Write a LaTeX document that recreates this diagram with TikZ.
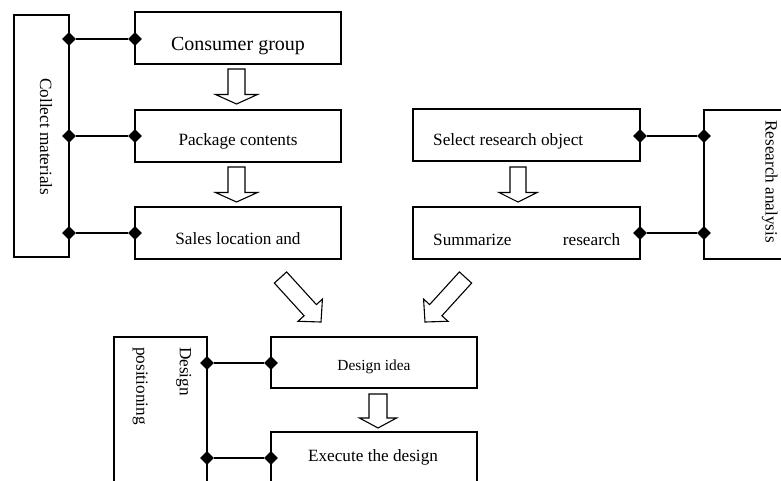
\documentclass[tikz,border=0pt]{standalone}
\usepackage{fontspec}
\setmainfont{Liberation Serif}
\usetikzlibrary{calc,shapes.geometric}
\tikzset{
  bx/.style={draw, line width=1.1pt, inner sep=0pt},
  dia/.style={diamond, fill=black, draw=none, inner sep=0pt, minimum width=14pt, minimum height=14pt},
  conn/.style={line width=1.1pt},
  barrow/.style={draw, fill=white, line width=1.1pt, line join=miter},
  txt/.style={inner sep=0pt, font=\fontsize{17.2}{20}\selectfont},
}
\newcommand\blockarr[5]{%
  \coordinate (#1-#2-s) at ($(#2)!#5!(#1)$);
  \draw[barrow] ($(#1)!#3!90:(#2)$) -- ($(#1-#2-s)!#3!90:(#2)$) -- ($(#1-#2-s)!#4!90:(#2)$) -- (#2)
    -- ($(#1-#2-s)!#4!-90:(#2)$) -- ($(#1-#2-s)!#3!-90:(#2)$) -- ($(#1)!#3!-90:(#2)$) -- cycle;
}
\begin{document}
\begin{tikzpicture}[x=1pt,y=-1pt]
\useasboundingbox (0,0) rectangle (781,480);
\clip (0,0) rectangle (781,480);
% boxes
\node[bx, minimum width=55pt, minimum height=242pt] (cm) at (41.5,136) {};
\node[bx, minimum width=206pt, minimum height=52pt] (cg) at (238,38) {};
\node[bx, minimum width=206pt, minimum height=52pt] (pc) at (238,136) {};
\node[bx, minimum width=206pt, minimum height=52pt] (sl) at (238,233) {};
\node[bx, minimum width=227pt, minimum height=52pt] (sr) at (526.5,135) {};
\node[bx, minimum width=227pt, minimum height=52pt] (su) at (526.5,233) {};
\node[bx, minimum width=100pt, minimum height=149pt] (ra) at (754,184.5) {};
\node[bx, minimum width=93pt, minimum height=170pt] (dp) at (160.5,422) {};
\node[bx, minimum width=206pt, minimum height=51pt] (di) at (374,362.5) {};
\node[bx, minimum width=206pt, minimum height=75pt] (ex) at (374,469.5) {};
% texts
\node[txt, font=\fontsize{20}{24}\selectfont, anchor=base] (tcg) at (238,50) {Consumer group};
\node[txt, anchor=base] (tpc) at (238,145) {Package contents};
\node[txt, anchor=base] (tsl) at (238,244.5) {Sales location and};
\node[txt, anchor=base west] (tsr) at (433,145) {Select research object};
\node[txt, anchor=base west] (tsu) at (433,245) {\makebox[187pt][l]{Summarize\hfill research}};
\node[txt, font=\fontsize{15.4}{18}\selectfont, anchor=base] (tdi) at (374,370.5) {Design idea};
\node[txt, anchor=base] (tex) at (373,461.5) {Execute the design};
\node[txt, rotate=-90, anchor=base west] (tcm) at (40,78) {Collect materials};
\node[txt, rotate=-90, anchor=base west] (tra) at (765.5,120) {Research analysis};
\node[txt, rotate=-90, anchor=north west, align=left, font=\fontsize{17.2}{43.5}\selectfont] (tdp) at (191.5,347) {Design\\positioning};
% diamonds
\node[dia] (a1) at (69,39) {};
\node[dia] (b1) at (135,39) {};
\node[dia] (a2) at (69,136) {};
\node[dia] (b2) at (135,136) {};
\node[dia] (a3) at (69,233) {};
\node[dia] (b3) at (135,233) {};
\node[dia] (c1) at (640,136) {};
\node[dia] (e1) at (704,136) {};
\node[dia] (c2) at (640,233) {};
\node[dia] (e2) at (704,233) {};
\node[dia] (f1) at (207,363) {};
\node[dia] (g1) at (271,363) {};
\node[dia] (f2) at (207,458) {};
\node[dia] (g2) at (271,458) {};
% connectors
\draw[conn] (a1) -- (b1);
\draw[conn] (a2) -- (b2);
\draw[conn] (a3) -- (b3);
\draw[conn] (c1) -- (e1);
\draw[conn] (c2) -- (e2);
\draw[conn] (f1) -- (g1);
\draw[conn] (f2) -- (g2);
% block arrows
\coordinate (v1t) at (236.5,69);  \coordinate (v1h) at (236.5,104);
\coordinate (v2t) at (236.5,167); \coordinate (v2h) at (236.5,202);
\coordinate (v3t) at (518,167);   \coordinate (v3h) at (518,202);
\coordinate (v4t) at (378,394);   \coordinate (v4h) at (378,428);
\coordinate (d1t) at (280.5,277.5); \coordinate (d1h) at (321,322);
\coordinate (d2t) at (465.5,277.5); \coordinate (d2h) at (425,322);
\blockarr{v1t}{v1h}{8.5pt}{21pt}{9.5pt}
\blockarr{v2t}{v2h}{8.5pt}{21pt}{9.5pt}
\blockarr{v3t}{v3h}{8pt}{19pt}{9.5pt}
\blockarr{v4t}{v4h}{9pt}{18.5pt}{10pt}
\blockarr{d1t}{d1h}{8.3pt}{16.5pt}{16pt}
\blockarr{d2t}{d2h}{8.3pt}{16.5pt}{16pt}
\end{tikzpicture}
\end{document}
